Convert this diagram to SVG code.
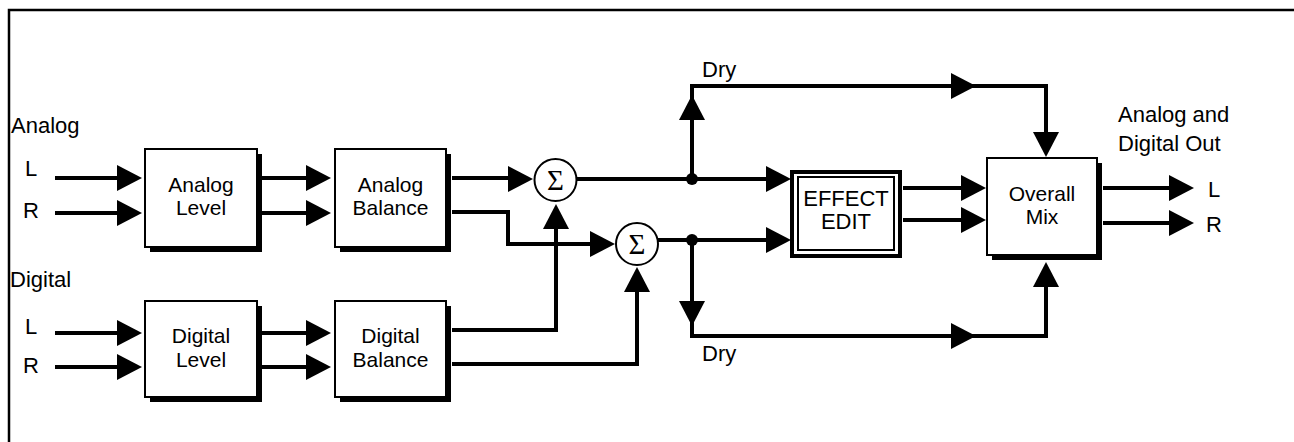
<svg xmlns="http://www.w3.org/2000/svg" xmlns:xlink="http://www.w3.org/1999/xlink" width="1294" height="442" viewBox="0 0 1294 442">
<style>
text{font-family:"Liberation Sans",Arial,sans-serif;font-size:22px;fill:#000}
.c{text-anchor:middle;font-size:21px}
.box{fill:#fff;stroke:#000;stroke-width:2}
.sh{fill:#000}
.ln{fill:none;stroke:#000;stroke-width:4;stroke-linejoin:miter}
.sum{fill:#fff;stroke:#000;stroke-width:2}
.sig{font-family:"Liberation Serif","Times New Roman",serif;font-size:29px;text-anchor:middle}
.frame{fill:none;stroke:#000;stroke-width:2.5}
</style>
<defs>
<path id="ah" d="M0,0 L-25,-13 L-25,13 Z" fill="#000"/>
<circle id="dot" r="6" fill="#000"/>
</defs>
<rect width="1294" height="442" fill="#fff"/>
<path class="frame" d="M9,442 V10 H1294"/>

<g id="labels">
<text x="11" y="133">Analog</text>
<text x="25" y="176">L</text>
<text x="23" y="218">R</text>
<text x="10" y="287">Digital</text>
<text x="25" y="334">L</text>
<text x="23" y="373">R</text>
<text x="702" y="77">Dry</text>
<text x="702" y="361">Dry</text>
<text x="1118" y="122">Analog and</text>
<text x="1118" y="151">Digital Out</text>
<text x="1208" y="197">L</text>
<text x="1206" y="232">R</text>
</g>

<g id="connectors">
<path class="ln" d="M55,178 H120 M55,213 H120 M55,333 H120 M55,367 H120"/>
<path class="ln" d="M259,178 H310 M259,213 H310 M259,333 H310 M259,367 H310"/>
<path class="ln" d="M452,178 H512 M452,212 H508 V244 H596"/>
<path class="ln" d="M452,330 H556 V225 M452,364 H637 V288"/>
<path class="ln" d="M577,179 H771 M658,240 H771"/>
<path class="ln" d="M692,179 V86 H1046 V140"/>
<path class="ln" d="M692,240 V336 H1046 V280"/>
<path class="ln" d="M903,188 H965 M903,220 H965"/>
<path class="ln" d="M1103,188 H1172 M1103,223 H1172"/>
<use xlink:href="#ah" transform="translate(142,178)"/>
<use xlink:href="#ah" transform="translate(142,213)"/>
<use xlink:href="#ah" transform="translate(142,333)"/>
<use xlink:href="#ah" transform="translate(142,367)"/>
<use xlink:href="#ah" transform="translate(331,178)"/>
<use xlink:href="#ah" transform="translate(331,213)"/>
<use xlink:href="#ah" transform="translate(331,333)"/>
<use xlink:href="#ah" transform="translate(331,367)"/>
<use xlink:href="#ah" transform="translate(533,179)"/>
<use xlink:href="#ah" transform="translate(615,244)"/>
<use xlink:href="#ah" transform="translate(556,204) rotate(-90)"/>
<use xlink:href="#ah" transform="translate(637,267) rotate(-90)"/>
<use xlink:href="#ah" transform="translate(791,179)"/>
<use xlink:href="#ah" transform="translate(791,240)"/>
<use xlink:href="#ah" transform="translate(692,95) rotate(-90)"/>
<use xlink:href="#ah" transform="translate(692,326) rotate(90)"/>
<use xlink:href="#ah" transform="translate(976,86)"/>
<use xlink:href="#ah" transform="translate(976,336)"/>
<use xlink:href="#ah" transform="translate(1046,157) rotate(90)"/>
<use xlink:href="#ah" transform="translate(1046,262) rotate(-90)"/>
<use xlink:href="#ah" transform="translate(986,188)"/>
<use xlink:href="#ah" transform="translate(986,220)"/>
<use xlink:href="#ah" transform="translate(1194,188)"/>
<use xlink:href="#ah" transform="translate(1194,223)"/>
<use xlink:href="#dot" x="692" y="179"/>
<use xlink:href="#dot" x="692" y="240"/>
</g>

<g id="analog-level">
<rect class="sh" x="150" y="154" width="112" height="98"/>
<rect class="box" x="145" y="149" width="112" height="98"/>
<text class="c" x="201" y="192">Analog</text>
<text class="c" x="201" y="215">Level</text>
</g>
<g id="analog-balance">
<rect class="sh" x="340" y="154" width="111" height="98"/>
<rect class="box" x="335" y="149" width="111" height="98"/>
<text class="c" x="390.5" y="192">Analog</text>
<text class="c" x="390.5" y="215">Balance</text>
</g>
<g id="digital-level">
<rect class="sh" x="150" y="306" width="112" height="96"/>
<rect class="box" x="145" y="301" width="112" height="96"/>
<text class="c" x="201" y="343">Digital</text>
<text class="c" x="201" y="367">Level</text>
</g>
<g id="digital-balance">
<rect class="sh" x="340" y="306" width="111" height="96"/>
<rect class="box" x="335" y="301" width="111" height="96"/>
<text class="c" x="390.5" y="343">Digital</text>
<text class="c" x="390.5" y="367">Balance</text>
</g>
<g id="sum1">
<circle class="sum" cx="555.5" cy="180" r="21"/>
<text class="sig" x="555.5" y="190">Σ</text>
</g>
<g id="sum2">
<circle class="sum" cx="637" cy="244" r="21"/>
<text class="sig" x="637" y="254">Σ</text>
</g>
<g id="effect-edit">
<rect x="792" y="172" width="108" height="84" fill="#fff" stroke="#000" stroke-width="4"/>
<rect x="798" y="177" width="96" height="73" fill="none" stroke="#000" stroke-width="2"/>
<text class="c" x="846" y="206" style="font-size:22px">EFFECT</text>
<text class="c" x="846" y="229" style="font-size:22px">EDIT</text>
</g>
<g id="overall-mix">
<rect class="sh" x="992" y="163" width="110" height="97"/>
<rect class="box" x="987" y="158" width="110" height="97"/>
<text class="c" x="1042" y="201">Overall</text>
<text class="c" x="1042" y="224">Mix</text>
</g>
</svg>
